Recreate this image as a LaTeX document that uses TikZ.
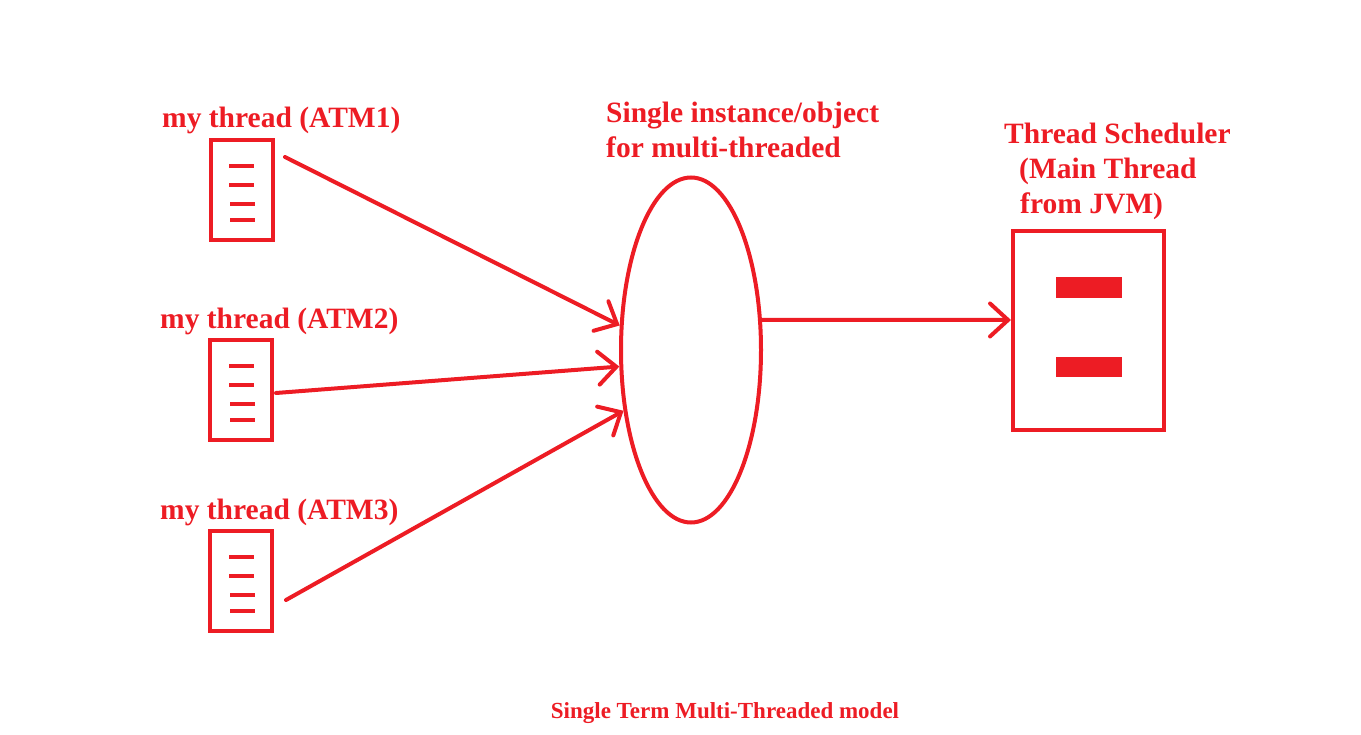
\documentclass[tikz,border=0pt]{standalone}
\usepackage{fontspec}
\setmainfont{Liberation Serif}
\usetikzlibrary{shapes.geometric,arrows.meta}
\definecolor{pred}{RGB}{237,28,36}
\begin{document}
\begin{tikzpicture}[x=1pt,y=-1pt,
  every node/.style={text=pred},
  lbl/.style={font=\fontsize{29.5}{34}\selectfont\bfseries, inner sep=0pt, anchor=base west},
  thbox/.style={draw=pred, line width=4pt, minimum width=62pt, minimum height=100pt, inner sep=0pt},
  tick/.style={draw=pred, line width=4.5pt},
  conn/.style={draw=pred, line width=4pt, line cap=round, -{Straight Barb[length=18pt,width=33pt,line cap=round]}},
]
\useasboundingbox (0,0) rectangle (1361,735);

% thread boxes
\node[thbox] (b1) at (242,190) {};
\node[thbox] (b2) at (241,390) {};
\node[thbox] (b3) at (241,581) {};
\foreach \b/\y in {b1/190,b2/390,b3/581}{
  \draw[tick] (229,\y-24) -- (254,\y-24);
  \draw[tick] (229,\y-5) -- (254,\y-5);
  \draw[tick] (230,\y+14) -- (255,\y+14);
  \draw[tick] (230,\y+30) -- (255,\y+30);
}

\node[lbl] (l1) at (162,128) {my thread (ATM1)};
\node[lbl] (l2) at (160,329) {my thread (ATM2)};
\node[lbl] (l3) at (160,519) {my thread (ATM3)};

% ellipse
\node[ellipse, draw=pred, line width=4pt, minimum width=140pt, minimum height=345pt, inner sep=0pt] (ell) at (691,350) {};
\node[lbl] (e1) at (606,123) {Single instance/object};
\node[lbl] (e2) at (606,158) {for multi-threaded};

% scheduler
\node[draw=pred, line width=4.5pt, minimum width=151pt, minimum height=199pt, inner sep=0pt] (sch) at (1088.5,330.5) {};
\fill[pred] (1056,277) rectangle (1122,298);
\fill[pred] (1056,357) rectangle (1122,377);
\node[lbl] (s1) at (1004,144) {Thread Scheduler};
\node[lbl] (s2) at (1019,179) {(Main Thread};
\node[lbl] (s3) at (1020,214) {from JVM)};

% connectors
\coordinate (a1) at (285,157);
\coordinate (a2) at (276,393);
\coordinate (a3) at (286,600);
\coordinate (t4) at (1011,320);
\draw[conn] (a1) -- (ell.161.7);
\draw[conn] (a2) -- (ell.193.8);
\draw[conn] (a3) -- (ell.222.3);
\draw[conn] (ell.23.5) -- (t4);

\node[font=\fontsize{23}{27}\selectfont\bfseries, inner sep=0pt, anchor=base] (cap) at (725,718) {Single Term Multi-Threaded model};
\end{tikzpicture}
\end{document}
